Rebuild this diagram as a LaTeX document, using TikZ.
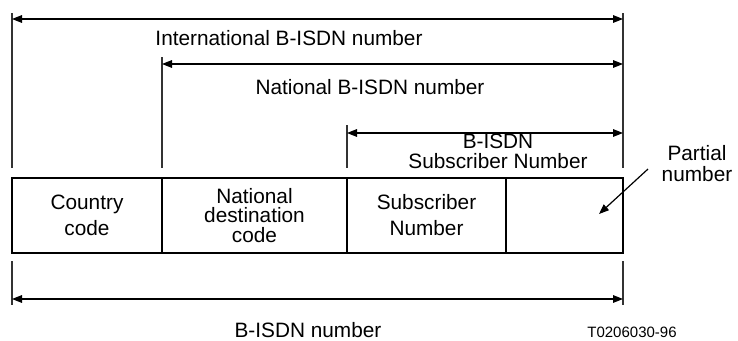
\documentclass[tikz,border=0pt]{standalone}
\usepackage{fontspec}
\setmainfont{Liberation Sans}
\usetikzlibrary{arrows.meta}

\tikzset{
    dimline/.style={
        line width=0.6bp,
        {Triangle[length=5bp,width=3.8bp]}-{Triangle[length=5bp,width=3.8bp]},
    },
    pointer/.style={line width=0.6bp, -{Triangle[length=5bp,width=3.8bp]}},
    tickline/.style={line width=0.6bp, black!80},
    cell/.style={
        draw, line width=0.7bp,
        minimum height=37.5bp,
        inner sep=0pt, outer sep=0pt,
        align=center,
        font=\fontsize{10.4bp}{13bp}\selectfont,
    },
    dimtext/.style={
        inner sep=0pt, align=center,
        font=\fontsize{10.4bp}{10bp}\selectfont,
    },
}

\begin{document}
\begin{tikzpicture}[x=0.5bp, y=-0.5bp]
    \useasboundingbox (0,0) rectangle (738,340);

    % the number, field by field
    \node[cell, minimum width=75bp]   (cc)  at (87,215.5)    {Country\\code};
    \node[cell, minimum width=92.5bp, font=\fontsize{10.4bp}{9.6bp}\selectfont]
                                      (ndc) at (254.5,215.5) {National\\destination\\code};
    \node[cell, minimum width=79.5bp] (sn)  at (426.5,215.5) {Subscriber\\Number};
    \node[cell, minimum width=58.5bp] (pn)  at (564.5,215.5) {};

    % extension lines above the fields
    \coordinate (t1) at (12,13);
    \coordinate (t2) at (162,57);
    \coordinate (t3) at (347,125);
    \coordinate (t4) at (623,13);
    \foreach \t in {t1,t2,t3,t4}
        \draw[tickline] (\t) -- (\t |- 0,168);

    % extension lines below
    \coordinate (b1) at (12,261);
    \coordinate (b2) at (623,261);
    \foreach \t in {b1,b2}
        \draw[tickline] (\t) -- (\t |- 0,305);

    % spans
    \coordinate (intL) at (12,19);   \coordinate (intR) at (623,19);
    \coordinate (natL) at (162,64);  \coordinate (natR) at (623,64);
    \coordinate (subL) at (347,133); \coordinate (subR) at (623,133);
    \coordinate (allL) at (12,299);  \coordinate (allR) at (623,299);
    \draw[dimline] (intL) -- (intR);
    \draw[dimline] (natL) -- (natR);
    \draw[dimline] (subL) -- (subR);
    \draw[dimline] (allL) -- (allR);

    \node[dimtext] (intlab) at (289,38.5) {International B-ISDN number};
    \node[dimtext] (natlab) at (370,87)   {National B-ISDN number};
    \node[dimtext] (sublab) at (498,151)  {B-ISDN\\Subscriber Number};
    \node[dimtext] (alllab) at (308,330)  {B-ISDN number};

    % partial number
    \node[dimtext, font=\fontsize{10.4bp}{10.5bp}\selectfont] (partlab) at (697,164) {Partial\\number};
    \coordinate (partfrom) at (648,169);
    \coordinate (partto) at (599,214);
    \draw[pointer] (partfrom) -- (partto);

    \node[inner sep=0pt, font=\fontsize{7.5bp}{8bp}\selectfont] (figno) at (632,332) {T0206030-96};
\end{tikzpicture}
\end{document}
